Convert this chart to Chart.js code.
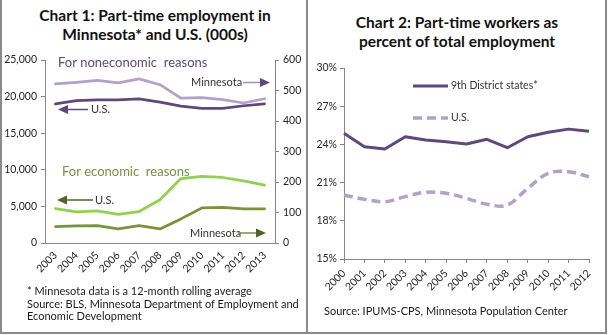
<!DOCTYPE html>
<html>
<head>
<meta charset="utf-8">
<script src="https://cdn.jsdelivr.net/npm/chart.js@4.4.1/dist/chart.umd.min.js"></script>
<style>
  body { margin: 0; background: #fff; }
  #wrap { position: relative; width: 610px; height: 335px; overflow: hidden; font-family: Lato, "Open Sans", sans-serif; color: #262626; }
  canvas { position: absolute; }
  .title { position: absolute; text-align: center; font-weight: bold; font-size: 15.5px; line-height: 18.5px; color: #111; }
  .note { position: absolute; font-size: 11px; line-height: 12.6px; color: #1a1a1a; }
  .rule { position: absolute; background: #8a8a8a; }
</style>
</head>
<body>
<div id="wrap">
  <div class="title" style="left:0; width:310px; top:6px;">Chart 1: Part-time employment in<br>Minnesota* and U.S. (000s)</div>
  <div class="title" style="left:307px; width:300px; top:13px;">Chart 2: Part-time workers as<br>percent of total employment</div>
  <canvas id="chart1" width="305" height="290" style="left:0; top:0;"></canvas>
  <canvas id="chart2" width="299" height="300" style="left:307px; top:0;"></canvas>
  <div class="note" style="left:27px; top:285px;">* Minnesota data is a 12-month rolling average<br>Source: BLS, Minnesota Department of Employment and<br>Economic Development</div>
  <div class="note" style="left:324px; top:305px;">Source: IPUMS-CPS, Minnesota Population Center</div>
  <div class="rule" style="left:0; top:0; width:1.5px; height:334px;"></div>
  <div class="rule" style="left:306px; top:0; width:1.5px; height:334px;"></div>
  <div class="rule" style="left:605px; top:0; width:1.5px; height:334px;"></div>
  <div class="rule" style="left:0; top:332px; width:607px; height:1.5px;"></div>
</div>
<script>
// Chart 1: part-time employment (000s), U.S. on the left axis, Minnesota on the right
var years1 = ['2003', '2004', '2005', '2006', '2007', '2008', '2009', '2010', '2011', '2012', '2013'];
var usNonEcon = [19000, 19450, 19550, 19550, 19700, 19250, 18700, 18400, 18400, 18750, 19000];
var mnNonEcon = [522, 527, 533, 525, 538, 519, 475, 477, 470, 459, 473];
var usEcon = [4700, 4250, 4400, 3900, 4300, 5900, 8800, 9100, 8950, 8500, 7900];
var mnEcon = [54, 56, 57, 46, 57, 46, 79, 115, 117, 112, 112];
var usTicks1 = [0, 5000, 10000, 15000, 20000, 25000];
var mnTicks1 = [0, 100, 200, 300, 400, 500, 600];

// Chart 2: part-time share of total employment (%)
var years2 = ['2000', '2001', '2002', '2003', '2004', '2005', '2006', '2007', '2008', '2009', '2010', '2011', '2012'];
var districtShare = [24.87, 23.82, 23.64, 24.6, 24.35, 24.2, 24.03, 24.4, 23.74, 24.6, 24.95, 25.2, 25.04];
var usShare = [20.03, 19.69, 19.5, 19.9, 20.24, 20.16, 19.77, 19.3, 19.24, 20.55, 21.73, 21.86, 21.46];
var pctTicks = [15, 18, 21, 24, 27, 30];

var AXIS = '#868686';
var TICKFONT = { family: 'Lato, "Open Sans", sans-serif', size: 10.5 };
var DARK_PURPLE = '#5f497a', LIGHT_PURPLE = '#b3a2c7';
var LIGHT_GREEN = '#92d050', OLIVE = '#77933c';

function arrow(ctx, x1, x2, y, lineColor, headColor) {
    // x2 is the tip of the arrow
    var dir = x2 > x1 ? 1 : -1;
    ctx.save();
    ctx.strokeStyle = lineColor;
    ctx.lineWidth = 1.5;
    ctx.beginPath();
    ctx.moveTo(x1, y);
    ctx.lineTo(x2 - dir * 8, y);
    ctx.stroke();
    ctx.fillStyle = headColor;
    ctx.beginPath();
    ctx.moveTo(x2, y);
    ctx.lineTo(x2 - dir * 10, y - 4.5);
    ctx.lineTo(x2 - dir * 10, y + 4.5);
    ctx.closePath();
    ctx.fill();
    ctx.restore();
}

function text(ctx, str, x, y, color, size) {
    ctx.save();
    ctx.fillStyle = color;
    ctx.font = size + 'px Lato, "Open Sans", sans-serif';
    ctx.textBaseline = 'middle';
    ctx.fillText(str, x, y);
    ctx.restore();
}

var chart1Labels = {
    id: 'chart1Labels',
    afterDatasetsDraw: function (chart) {
        var ctx = chart.ctx;
        text(ctx, 'For noneconomic  reasons', 58, 63, DARK_PURPLE, 13);
        text(ctx, 'Minnesota', 191, 82.5, '#333', 11);
        arrow(ctx, 243, 270, 82.5, '#a08cc0', DARK_PURPLE);
        text(ctx, 'U.S.', 91, 109.5, '#333', 11);
        arrow(ctx, 88, 58, 109.5, DARK_PURPLE, DARK_PURPLE);
        text(ctx, 'For economic  reasons', 62, 172, OLIVE, 13);
        text(ctx, 'U.S.', 95, 200, '#333', 11);
        arrow(ctx, 93, 57, 200, '#4f6228', '#4f6228');
        text(ctx, 'Minnesota', 190, 233, '#333', 11);
        arrow(ctx, 238, 266, 233, OLIVE, '#4f6228');
    }
};

var chart2Legend = {
    id: 'chart2Legend',
    afterDatasetsDraw: function (chart) {
        var ctx = chart.ctx;
        var x0 = 413 - 307, x1 = 448 - 307;
        ctx.save();
        ctx.lineWidth = 3;
        ctx.strokeStyle = DARK_PURPLE;
        ctx.beginPath();
        ctx.moveTo(x0, 86); ctx.lineTo(x1, 86);
        ctx.stroke();
        ctx.strokeStyle = LIGHT_PURPLE;
        ctx.lineWidth = 3.5;
        ctx.setLineDash([9, 5]);
        ctx.beginPath();
        ctx.moveTo(x0, 118); ctx.lineTo(x1, 118);
        ctx.stroke();
        ctx.restore();
        text(ctx, '9th District states*', x1 + 3, 86, '#333', 10.5);
        text(ctx, 'U.S.', x1 + 3, 118, '#333', 10.5);
    }
};

function fixWidth(w) { return function (scale) { scale.width = w; }; }
function fixHeight(h) { return function (scale) { scale.height = h; }; }

function axisStyle() {
    return {
        grid: { drawOnChartArea: false, color: AXIS, tickLength: 4, lineWidth: 1 },
        border: { color: AXIS, width: 1 }
    };
}

var handleChart1 = function () {
    var ctx = document.getElementById('chart1').getContext('2d');
    var x = axisStyle(), yL = axisStyle(), yR = axisStyle();
    x.offset = true;
    x.grid.drawTicks = false;
    x.ticks = { font: TICKFONT, color: '#262626', maxRotation: 45, minRotation: 45, padding: 6, autoSkip: false };
    x.afterFit = fixHeight(47);
    yL.position = 'left';
    yL.min = usTicks1[0]; yL.max = usTicks1[usTicks1.length - 1];
    yL.afterBuildTicks = function (scale) { scale.ticks = usTicks1.map(function (v) { return { value: v }; }); };
    yL.ticks = { font: TICKFONT, color: '#262626', padding: 4, callback: function (v) { return v.toLocaleString('en-US'); } };
    yL.afterFit = fixWidth(45);
    yR.position = 'right';
    yR.min = mnTicks1[0]; yR.max = mnTicks1[mnTicks1.length - 1];
    yR.afterBuildTicks = function (scale) { scale.ticks = mnTicks1.map(function (v) { return { value: v }; }); };
    yR.ticks = { font: TICKFONT, color: '#262626', padding: 4 };
    yR.afterFit = fixWidth(30);

    window.chart1 = new Chart(ctx, {
        type: 'line',
        data: {
            labels: years1,
            datasets: [
                { label: 'U.S. noneconomic', data: usNonEcon, yAxisID: 'y', borderColor: DARK_PURPLE, borderWidth: 2.75 },
                { label: 'Minnesota noneconomic', data: mnNonEcon, yAxisID: 'y1', borderColor: LIGHT_PURPLE, borderWidth: 2.75 },
                { label: 'U.S. economic', data: usEcon, yAxisID: 'y', borderColor: LIGHT_GREEN, borderWidth: 2.75 },
                { label: 'Minnesota economic', data: mnEcon, yAxisID: 'y1', borderColor: OLIVE, borderWidth: 2.75 }
            ]
        },
        options: {
            responsive: false,
            animation: false,
            devicePixelRatio: 1,
            layout: { padding: { top: 60, left: 0, right: 0, bottom: 0 } },
            elements: { point: { radius: 0 }, line: { tension: 0, borderJoinStyle: 'round', borderCapStyle: 'round' } },
            plugins: { legend: { display: false }, tooltip: { enabled: false } },
            scales: { x: x, y: yL, y1: yR }
        },
        plugins: [chart1Labels]
    });
};

var handleChart2 = function () {
    var ctx = document.getElementById('chart2').getContext('2d');
    var x = axisStyle(), y = axisStyle();
    x.offset = false;
    x.ticks = { font: TICKFONT, color: '#262626', maxRotation: 45, minRotation: 45, padding: 4, autoSkip: false };
    x.afterFit = fixHeight(41);
    y.min = pctTicks[0]; y.max = pctTicks[pctTicks.length - 1];
    y.afterBuildTicks = function (scale) { scale.ticks = pctTicks.map(function (v) { return { value: v }; }); };
    y.ticks = { font: TICKFONT, color: '#262626', padding: 3, callback: function (v) { return v + '%'; } };
    y.afterFit = fixWidth(37);

    window.chart2 = new Chart(ctx, {
        type: 'line',
        data: {
            labels: years2,
            datasets: [
                { label: '9th District states*', data: districtShare, borderColor: DARK_PURPLE, borderWidth: 3, tension: 0 },
                { label: 'U.S.', data: usShare, borderColor: LIGHT_PURPLE, borderWidth: 3.5, borderDash: [9, 5], tension: 0.35 }
            ]
        },
        options: {
            responsive: false,
            animation: false,
            devicePixelRatio: 1,
            layout: { padding: { top: 68, left: 0, right: 17, bottom: 0 } },
            elements: { point: { radius: 0 }, line: { borderJoinStyle: 'round' } },
            plugins: { legend: { display: false }, tooltip: { enabled: false } },
            scales: { x: x, y: y }
        },
        plugins: [chart2Legend]
    });
};

handleChart1();
handleChart2();
</script>
</body>
</html>
